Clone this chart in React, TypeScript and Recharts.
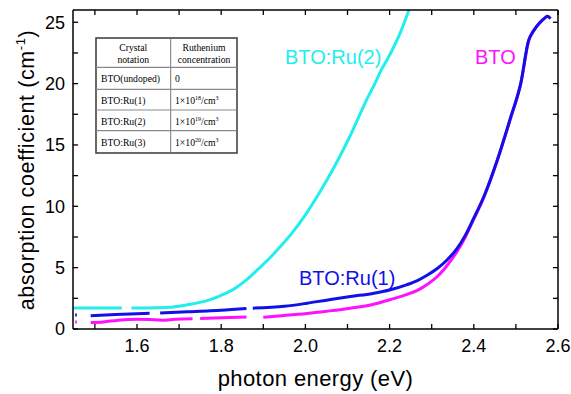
import React from 'react';
import { LineChart, Line, XAxis, YAxis } from 'recharts';

// BTO:Ru(2) (cyan)
const ru2Energy = [1.448, 1.5, 1.53, 1.564, 1.575, 1.587, 1.62, 1.68, 1.72, 1.77, 1.8, 1.83, 1.86, 1.89, 1.92, 1.94, 1.97, 2.0, 2.035, 2.07, 2.1, 2.15, 2.165, 2.18, 2.195, 2.226, 2.248];
const ru2Alpha = [1.72, 1.72, 1.72, 1.72, null, 1.72, 1.72, 1.78, 1.98, 2.35, 2.75, 3.25, 4.0, 4.95, 5.95, 6.7, 7.9, 9.3, 11.2, 13.3, 15.3, 19.0, 20.0, 21.1, 22.0, 24.2, 26.2];

// BTO:Ru(1) (blue)
const ru1Energy = [1.453, 1.457, 1.47, 1.49, 1.55, 1.63, 1.64, 1.655, 1.72, 1.774, 1.86, 1.866, 1.875, 1.95, 2.004, 2.05, 2.107, 2.16, 2.202, 2.24, 2.266, 2.29, 2.314, 2.337, 2.36, 2.38, 2.4, 2.424, 2.456, 2.488, 2.512, 2.53, 2.542, 2.555, 2.567, 2.575, 2.582];
const ru1Alpha = [1.15, 1.15, null, 1.08, 1.18, 1.28, null, 1.3, 1.4, 1.48, 1.68, null, 1.7, 1.85, 2.1, 2.35, 2.65, 2.9, 3.2, 3.6, 3.95, 4.4, 4.95, 5.65, 6.55, 7.65, 9.05, 10.8, 13.8, 17.3, 20.1, 23.5, 24.3, 24.9, 25.3, 25.5, 25.3];

// BTO (magenta)
const btoEnergy = [1.453, 1.457, 1.47, 1.49, 1.52, 1.552, 1.58, 1.6, 1.63, 1.66, 1.69, 1.732, 1.74, 1.75, 1.8, 1.86, 1.88, 1.9, 1.95, 2.004, 2.05, 2.107, 2.16, 2.202, 2.24, 2.266, 2.29, 2.314, 2.337, 2.36, 2.38, 2.4, 2.424, 2.456, 2.488, 2.512, 2.53, 2.542, 2.555, 2.567, 2.575, 2.582];
const btoAlpha = [0.58, 0.58, null, 0.52, 0.58, 0.7, 0.78, 0.8, 0.78, 0.72, 0.8, 0.84, null, 0.85, 0.92, 0.98, null, 0.96, 1.1, 1.27, 1.45, 1.7, 2.0, 2.4, 2.8, 3.15, 3.65, 4.3, 5.2, 6.3, 7.5, 8.95, 10.75, 13.75, 17.25, 20.05, 23.45, 24.3, 24.9, 25.3, 25.5, 25.3];

const xTicks = [1.5, 1.6, 1.7, 1.8, 1.9, 2.0, 2.1, 2.2, 2.3, 2.4, 2.5, 2.6];
const yTicks = [0, 2.5, 5, 7.5, 10, 12.5, 15, 17.5, 20, 22.5, 25];

const tableHeader = [['Crystal', 'notation'], ['Ruthenium', 'concentration']];
const tableCrystals = ['BTO(undoped)', 'BTO:Ru(1)', 'BTO:Ru(2)', 'BTO:Ru(3)'];
const tableExponents = [null, '18', '19', '20'];

const zip = (e: number[], a: (number | null)[]) => e.map((v, i) => ({ e: v, a: a[i] }));
const ru2Data = zip(ru2Energy, ru2Alpha);
const ru1Data = zip(ru1Energy, ru1Alpha);
const btoData = zip(btoEnergy, btoAlpha);

const CYAN = '#22EEEE';
const BLUE = '#1010E8';
const MAGENTA = '#FF10FF';
const SANS = '"Liberation Sans", Arial, sans-serif';
const SERIF = '"Liberation Serif", "Times New Roman", serif';

const tickStyle = { fontSize: 18, fill: '#000', fontFamily: SANS };

const Overlay = () => {
  const rows = [67.3, 89.3, 110, 130.7];
  const rowBase = [82, 103.5, 124.5, 145.5];
  return (
    <svg width={571} height={394} style={{ position: 'absolute', left: 0, top: 0, pointerEvents: 'none' }}>
      {/* table */}
      <rect x={96} y={38} width={141} height={115} fill="#fff" stroke="#444" strokeWidth={1.6} />
      <line x1={170.7} y1={38} x2={170.7} y2={153} stroke="#777" strokeWidth={1} />
      {rows.map((y, i) => (
        <line key={i} x1={96} y1={y} x2={237} y2={y} stroke="#888" strokeWidth={1.2} />
      ))}
      <g fontFamily={SERIF} fontSize={9.7} fill="#000">
        <text x={133.3} y={50.5} textAnchor="middle">{tableHeader[0][0]}</text>
        <text x={133.3} y={62.5} textAnchor="middle">{tableHeader[0][1]}</text>
        <text x={204} y={50.5} textAnchor="middle">{tableHeader[1][0]}</text>
        <text x={204} y={62.5} textAnchor="middle">{tableHeader[1][1]}</text>
        {tableCrystals.map((c, i) => (
          <text key={c} x={101} y={rowBase[i]}>{c}</text>
        ))}
        {tableExponents.map((ex, i) =>
          ex === null ? (
            <text key={i} x={175} y={rowBase[i]}>0</text>
          ) : (
            <text key={i} x={175} y={rowBase[i]}>
              1×10<tspan fontSize={6} dy={-4}>{ex}</tspan>
              <tspan dy={4}>/cm</tspan>
              <tspan fontSize={6} dy={-4}>3</tspan>
            </text>
          )
        )}
      </g>
      {/* curve labels */}
      <g fontFamily={SANS} fontSize={20}>
        <text x={285} y={63.5} fill={CYAN}>BTO:Ru(2)</text>
        <text x={475} y={64} fill={MAGENTA}>BTO</text>
        <text x={299} y={285} fill={BLUE}>BTO:Ru(1)</text>
      </g>
      {/* axis titles */}
      <text x={315.5} y={386} textAnchor="middle" fontFamily={SANS} fontSize={22} letterSpacing={0.4} fill="#000">
        photon energy (eV)
      </text>
      <text transform="translate(34,170) rotate(-90)" textAnchor="middle" fontFamily={SANS} fontSize={21.5} letterSpacing={0.6} fill="#000">
        absorption coefficient  (cm<tspan fontSize={13} dy={-9}>-1</tspan><tspan dy={9}>)</tspan>
      </text>
    </svg>
  );
};

export default function App() {
  return (
    <div style={{ position: 'absolute', left: 0, top: 0, width: 571, height: 394, background: '#fff' }}>
      <LineChart width={571} height={394} margin={{ top: 9, right: 12, bottom: 0, left: 13 }}>
        <XAxis
          xAxisId={0}
          dataKey="e"
          type="number"
          domain={[1.448, 2.6]}
          allowDataOverflow
          ticks={xTicks}
          interval={0}
          height={65}
          tickSize={-5}
          tickMargin={15}
          tick={tickStyle}
          tickFormatter={(v: number) => (Math.round(v * 10) % 2 === 0 ? v.toFixed(1) : '')}
          axisLine={{ stroke: '#000', strokeWidth: 1.5 }}
          tickLine={{ stroke: '#000', strokeWidth: 1.3 }}
        />
        <XAxis
          xAxisId="top"
          orientation="top"
          dataKey="e"
          type="number"
          domain={[1.448, 2.6]}
          allowDataOverflow
          ticks={xTicks}
          interval={0}
          height={1}
          tickSize={-5}
          tickFormatter={() => ''}
          axisLine={{ stroke: '#000', strokeWidth: 1.5 }}
          tickLine={{ stroke: '#000', strokeWidth: 1.3 }}
        />
        <YAxis
          yAxisId={0}
          type="number"
          domain={[0, 26]}
          allowDataOverflow
          ticks={yTicks}
          interval={0}
          width={60}
          tickSize={-5}
          tickMargin={13}
          tick={tickStyle}
          tickFormatter={(v: number) => (v % 5 === 0 ? String(v) : '')}
          axisLine={{ stroke: '#000', strokeWidth: 1.5 }}
          tickLine={{ stroke: '#000', strokeWidth: 1.3 }}
        />
        <YAxis
          yAxisId="right"
          orientation="right"
          type="number"
          domain={[0, 26]}
          allowDataOverflow
          ticks={yTicks}
          interval={0}
          width={1}
          tickSize={-5}
          tickFormatter={() => ''}
          axisLine={{ stroke: '#000', strokeWidth: 1.5 }}
          tickLine={{ stroke: '#000', strokeWidth: 1.3 }}
        />
        <Line data={ru2Data} dataKey="a" type="monotone" stroke={CYAN} strokeWidth={3} dot={false} connectNulls={false} isAnimationActive={false} />
        <Line data={btoData} dataKey="a" type="monotone" stroke={MAGENTA} strokeWidth={3} dot={false} connectNulls={false} isAnimationActive={false} />
        <Line data={ru1Data} dataKey="a" type="monotone" stroke={BLUE} strokeWidth={3} dot={false} connectNulls={false} isAnimationActive={false} />
      </LineChart>
      <Overlay />
    </div>
  );
}
